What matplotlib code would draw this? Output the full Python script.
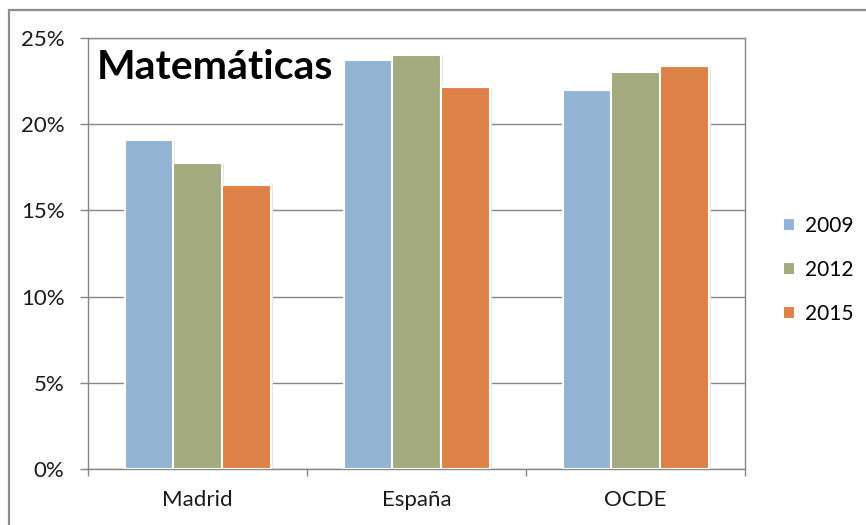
import matplotlib
matplotlib.use("Agg")
import matplotlib.pyplot as plt
from matplotlib.patches import Rectangle
from matplotlib.ticker import FixedLocator, FuncFormatter
import numpy as np

categories = ["Madrid", "España", "OCDE"]
years = ["2009", "2012", "2015"]
v2009 = [19.1, 23.7, 22.0]
v2012 = [17.75, 24.0, 23.0]
v2015 = [16.45, 22.15, 23.4]
colors = ["#93B3D2", "#A3AA7E", "#DE8148"]
title = "Matemáticas"

plt.rcParams['font.family'] = ['Lato', 'DejaVu Sans']

fig = plt.figure(figsize=(8.66, 5.25), dpi=100)
# outer chart border
fig.patches.append(Rectangle((9/866, -0.1), 1.2, 1 - 10/525 + 0.1, transform=fig.transFigure,
                             fill=False, edgecolor="#8C8C8C", linewidth=1.6))
ax = fig.add_axes([88/866, 1 - 469/525, (745 - 88)/866, (469 - 38)/525])

x = np.arange(len(categories))
w = 1 / 4.5
series = [v2009, v2012, v2015]
for i, (vals, c, yr) in enumerate(zip(series, colors, years)):
    pos = x + (i - 1) * w
    # soft shadow
    ax.bar(pos + 0.003, vals, width=w * 1.06, color="#E4E4E4", zorder=2, linewidth=0)
    ax.bar(pos, vals, width=w, color=c, edgecolor="white", linewidth=1.5, zorder=3, label=yr)

ax.set_xlim(-0.5, 2.5)
ax.set_ylim(0, 25)
ax.yaxis.set_major_locator(FixedLocator([0, 5, 10, 15, 20, 25]))
ax.yaxis.set_major_formatter(FuncFormatter(lambda v, p: f"{int(v)}%"))
ax.set_xticks(x)
ax.set_xticklabels(categories)
ax.xaxis.set_minor_locator(FixedLocator([-0.5, 0.5, 1.5, 2.5]))
ax.tick_params(axis='x', which='major', length=0, pad=15, labelsize=16, colors="#1a1a1a")
ax.tick_params(axis='x', which='minor', length=5, color="#868686", width=1)
ax.tick_params(axis='y', length=6, color="#868686", width=1, labelsize=16, colors="#1a1a1a", pad=11)
ax.grid(axis='y', color="#868686", linewidth=1, zorder=0)
ax.set_axisbelow(True)
for s in ax.spines.values():
    s.set_color("#868686")
    s.set_linewidth(1)

ax.text(0.013, 0.975, title, transform=ax.transAxes, fontsize=29.5, fontweight='bold',
        va='top', ha='left', color="black", zorder=5)

leg = ax.legend(loc='center left', bbox_to_anchor=(1.03, 0.462), frameon=False,
                fontsize=15, handlelength=0.53, handleheight=0.53, labelspacing=1.15,
                handletextpad=0.5)

fig.savefig("out.png", dpi=100)
